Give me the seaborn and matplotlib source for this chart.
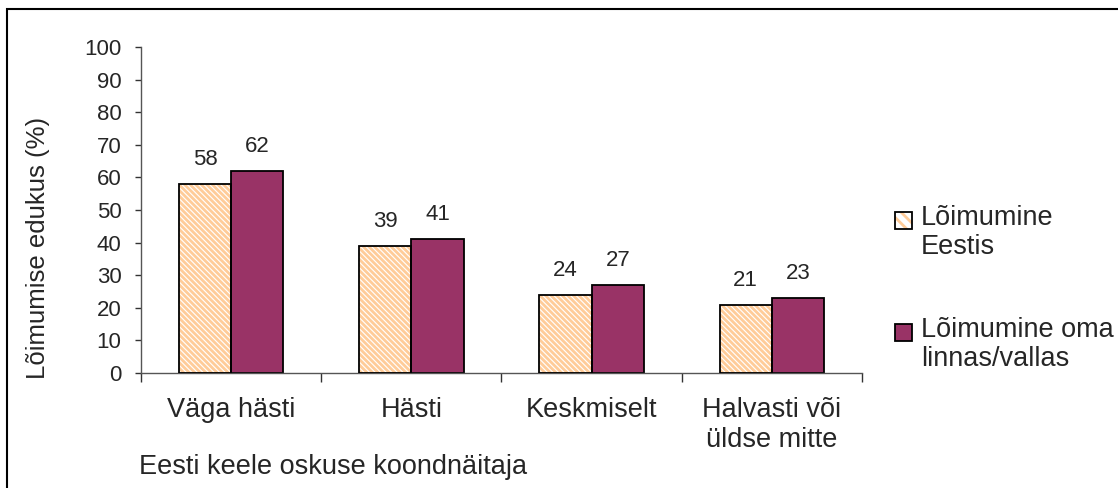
import matplotlib

matplotlib.use("Agg")

import matplotlib.pyplot as plt
import matplotlib.patches as mpatches
import pandas as pd
import seaborn as sns

categories = ["Väga hästi", "Hästi", "Keskmiselt", "Halvasti või\nüldse mitte"]
series_names = ["Lõimumine\nEestis", "Lõimumine oma\nlinnas/vallas"]
estonia = [58, 39, 24, 21]
local = [62, 41, 27, 23]
y_ticks = list(range(0, 101, 10))

ORANGE = "#FFCC99"
PURPLE = "#993366"
HATCH = "\\" * 6
FS_NUM = 16
FS_TXT = 19.5
W, H = 1118, 488

sns.set_theme(style="white")
plt.rcParams["font.family"] = ["Liberation Sans", "DejaVu Sans"]
plt.rcParams["hatch.linewidth"] = 2.0

df = pd.DataFrame(
    {
        "category": categories * 2,
        "series": [series_names[0]] * 4 + [series_names[1]] * 4,
        "value": estonia + local,
    }
)


def px(x, y):
    # pixel position (from top-left) to figure fraction
    return x / W, 1 - y / H


fig = plt.figure(figsize=(W / 100, H / 100), dpi=100)
ax = fig.add_axes([141 / W, 1 - 373 / H, (862 - 141) / W, (373 - 47) / H])

sns.barplot(
    data=df,
    x="category",
    y="value",
    hue="series",
    palette=[ORANGE, PURPLE],
    saturation=1,
    width=0.58,
    gap=0,
    legend=False,
    ax=ax,
)

for i, container in enumerate(ax.containers):
    for bar in container:
        if i == 0:
            bar.set_facecolor("white")
            bar.set_edgecolor(ORANGE)
            bar.set_hatch(HATCH)
            bar.set_linewidth(0)
            ax.add_patch(
                mpatches.Rectangle(
                    bar.get_xy(), bar.get_width(), bar.get_height(),
                    facecolor="none", edgecolor="black", linewidth=1.3, zorder=3,
                )
            )
        else:
            bar.set_edgecolor("black")
            bar.set_linewidth(1.3)
    ax.bar_label(container, labels=[f"{v:.0f}" for v in container.datavalues],
                 padding=10, fontsize=FS_NUM)

ax.set_ylim(0, 100)
ax.set_yticks(y_ticks)
ax.set_xlim(-0.5, len(categories) - 0.5)
ax.set_xticks([x - 0.5 for x in range(len(categories) + 1)], minor=False)
ax.set_xticklabels([])
ax.set_xticks(range(len(categories)), minor=True)
ax.set_xticklabels(categories, minor=True, fontsize=FS_TXT)
ax.tick_params(axis="x", which="major", direction="out", length=6.5, color="#333333", width=1, bottom=True)
ax.tick_params(axis="x", which="minor", length=0, pad=17)
ax.tick_params(axis="y", direction="out", length=4, color="#333333", width=1, left=True,
               labelsize=FS_NUM, pad=10)

for side in ["top", "right"]:
    ax.spines[side].set_visible(False)
for side in ["left", "bottom"]:
    ax.spines[side].set_color("#555555")
    ax.spines[side].set_linewidth(1)

ax.set_xlabel("")
ax.set_ylabel("")
fig.text(*px(38, 248), "Lõimumise edukus (%)", fontsize=18.5,
         rotation=90, ha="center", va="center")
fig.text(*px(139, 467), "Eesti keele oskuse koondnäitaja", fontsize=FS_TXT,
         ha="left", va="center")

# legend, drawn by hand so that each key sits beside the first line of its label
legend_rows = [220, 332]
key = 17
for name, row, style in zip(series_names, legend_rows, ["hatch", "solid"]):
    x0, y0 = px(895, row + key / 2)
    if style == "hatch":
        fig.patches.append(mpatches.Rectangle(
            (x0, y0), key / W, key / H, transform=fig.transFigure,
            facecolor="white", edgecolor=ORANGE, hatch="\\\\\\", linewidth=0))
        fig.patches.append(mpatches.Rectangle(
            (x0, y0), key / W, key / H, transform=fig.transFigure,
            facecolor="none", edgecolor="black", linewidth=1.3))
    else:
        fig.patches.append(mpatches.Rectangle(
            (x0, y0), key / W, key / H, transform=fig.transFigure,
            facecolor=PURPLE, edgecolor="black", linewidth=1.3))
    fig.text(*px(921, row - 15), name, fontsize=FS_TXT, ha="left", va="top",
             linespacing=1.15)

fig.patches.append(
    mpatches.Rectangle(
        (7 / W, -0.1), 1.2, 1 - 9 / H + 0.1,
        transform=fig.transFigure, facecolor="none", edgecolor="black", linewidth=1.5,
    )
)

fig.savefig("out.png", dpi=100)
